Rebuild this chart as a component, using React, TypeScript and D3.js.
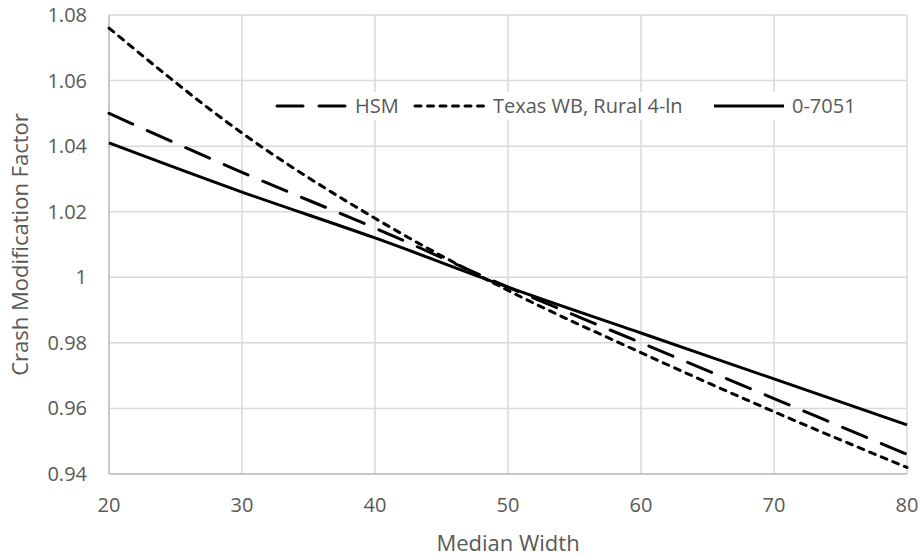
import React from "react";
import * as d3 from "d3";

// Median width (ft) sampled every 10 ft
const medianWidth = [20, 30, 40, 50, 60, 70, 80];

// Crash modification factor for each model
const hsmCmf = [1.05, 1.032, 1.015, 0.997, 0.98, 0.963, 0.946];
const texasCmf = [1.076, 1.044, 1.018, 0.996, 0.977, 0.959, 0.942];
const study7051Cmf = [1.041, 1.026, 1.012, 0.997, 0.983, 0.969, 0.955];

const seriesNames = ["HSM", "Texas WB, Rural 4-ln", "0-7051"];

const xTicks = [20, 30, 40, 50, 60, 70, 80];
const yTicks = [0.94, 0.96, 0.98, 1, 1.02, 1.04, 1.06, 1.08];

const W = 923;
const H = 556;
const M = { left: 109, right: 16, top: 15, bottom: 82 };

const FONT = "'Open Sans', 'Noto Sans', sans-serif";
const TEXT = "#595959";
const GRID = "#d9d9d9";

export default function App() {
  const x = d3.scaleLinear().domain([20, 80]).range([M.left, W - M.right]);
  const y = d3.scaleLinear().domain([0.94, 1.08]).range([H - M.bottom, M.top]);

  const line = d3
    .line<[number, number]>()
    .x((d) => x(d[0]))
    .y((d) => y(d[1]))
    .curve(d3.curveMonotoneX);

  const pts = (vals: number[]) =>
    medianWidth.map((w, i) => [w, vals[i]] as [number, number]);

  const styles = [
    { dash: "26 16", cap: "round" },
    { dash: "6 6.5", cap: "round" },
    { dash: "", cap: "butt" },
  ];
  const series = [hsmCmf, texasCmf, study7051Cmf];

  // legend entries: sample start x and text start x
  const legendY = 106;
  const legendItems = [
    { x0: 277, tx: 355, w: 42 },
    { x0: 415, tx: 493, w: 212 },
    { x0: 714, tx: 792, w: 70 },
  ];

  const [x0, x1] = x.range();
  const [yb, yt] = y.range();

  return (
    <svg
      width={W}
      height={H}
      style={{ position: "absolute", left: 0, top: 0, background: "#fff" }}
      fontFamily={FONT}
    >
      {/* grid */}
      {yTicks.map((t) => (
        <line key={"gy" + t} x1={x0} x2={x1} y1={y(t)} y2={y(t)} stroke={GRID} strokeWidth={1.5} />
      ))}
      {xTicks.map((t) => (
        <line key={"gx" + t} x1={x(t)} x2={x(t)} y1={yt} y2={yb} stroke={GRID} strokeWidth={1.5} />
      ))}
      {/* axes */}
      <line x1={x0} x2={x1} y1={yb} y2={yb} stroke="#bfbfbf" strokeWidth={1.5} />
      <line x1={x0} x2={x0} y1={yt} y2={yb} stroke="#bfbfbf" strokeWidth={1.5} />

      {/* tick labels */}
      {yTicks.map((t) => (
        <text
          key={"ty" + t}
          x={x0 - 22}
          y={y(t)}
          dy="0.35em"
          textAnchor="end"
          fontSize={20}
          fill={TEXT}
        >
          {d3.format("")(+t.toFixed(2))}
        </text>
      ))}
      {xTicks.map((t) => (
        <text key={"tx" + t} x={x(t)} y={yb + 31} dy="0.35em" textAnchor="middle" fontSize={20} fill={TEXT}>
          {t}
        </text>
      ))}

      {/* axis titles */}
      <text x={(x0 + x1) / 2} y={543} dy="0.35em" textAnchor="middle" fontSize={22} fill={TEXT}>
        Median Width
      </text>
      <text
        transform={`translate(20,${(yt + yb) / 2}) rotate(-90)`}
        dy="0.35em"
        textAnchor="middle"
        fontSize={22}
        fill={TEXT}
      >
        Crash Modification Factor
      </text>

      {/* series */}
      {series.map((vals, i) => (
        <path
          key={"s" + i}
          d={line(pts(vals)) || ""}
          fill="none"
          stroke="#000"
          strokeWidth={3}
          strokeDasharray={styles[i].dash || undefined}
          strokeLinecap={styles[i].cap as any}
        />
      ))}

      {/* legend */}
      {legendItems.map((it, i) => (
        <g key={"lg" + i}>
          <rect x={it.x0 - 4} y={legendY - 14} width={it.tx - it.x0 + it.w} height={28} fill="#fff" />
          <line
            x1={it.x0}
            x2={it.x0 + 70}
            y1={legendY}
            y2={legendY}
            stroke="#000"
            strokeWidth={3}
            strokeDasharray={styles[i].dash || undefined}
            strokeLinecap={styles[i].cap as any}
          />
          <text x={it.tx} y={legendY} dy="0.35em" fontSize={20} fill={TEXT}>
            {seriesNames[i]}
          </text>
        </g>
      ))}
    </svg>
  );
}
